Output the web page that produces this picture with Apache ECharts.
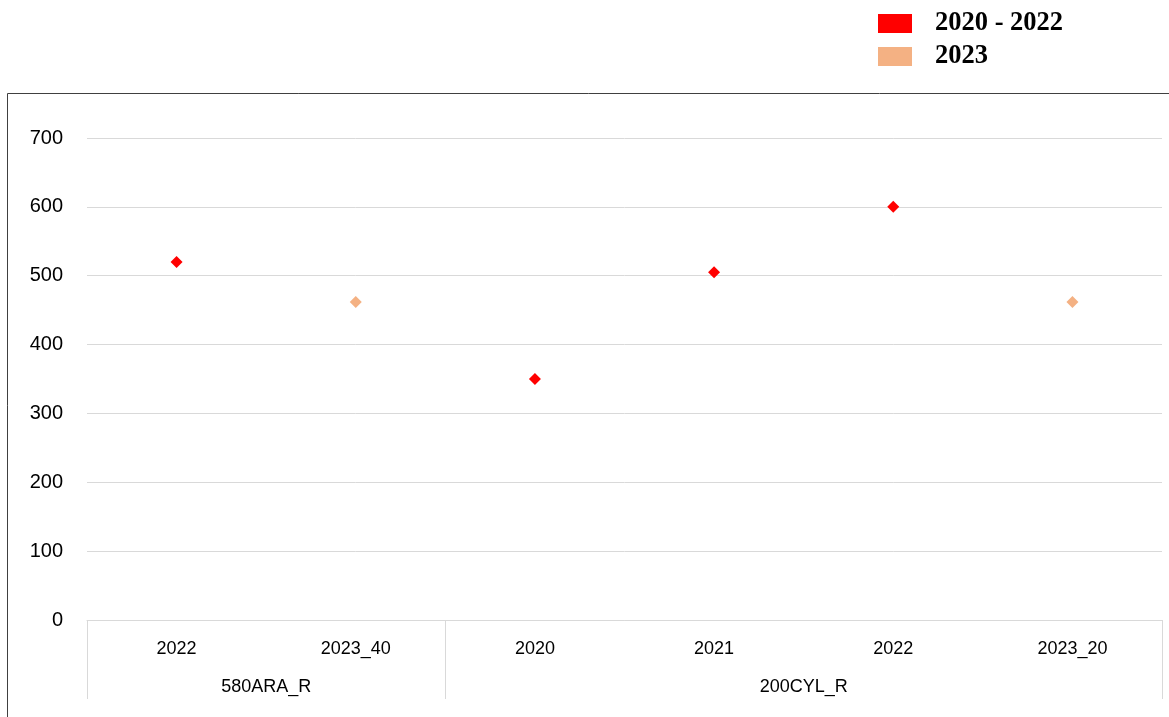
<!DOCTYPE html>
<html>
<head>
<meta charset="utf-8">
<script src="https://cdn.jsdelivr.net/npm/echarts@6/dist/echarts.min.js"></script>
<style>
html,body{margin:0;padding:0;background:#fff;}
#main{width:1169px;height:717px;}
</style>
</head>
<body>
<div id="main"></div>
<script>
// 数据
var categories = ['2022', '2023_40', '2020', '2021', '2022', '2023_20'];
var groupNames = ['580ARA_R', '200CYL_R'];
var groupCenters = [1, 4];     // 组标签位置 (以类目宽度计)
var groupBounds = [0, 2, 6];   // 组分隔线
var seriesOld = [520, null, 350, 505, 600, null];   // 2020 - 2022
var seriesNew = [null, 462, null, null, null, 462]; // 2023
var yTicks = [0, 100, 200, 300, 400, 500, 600, 700];

var myChart = echarts.init(document.getElementById('main'));

var option = {
    animation: false,
    legend: {
        orient: 'vertical',
        left: 873,
        top: 5,
        itemWidth: 34,
        itemHeight: 19,
        itemGap: 6,
        icon: 'rect',
        selectedMode: false,
        textStyle: {
            fontFamily: 'Liberation Serif',
            fontWeight: 'bold',
            fontSize: 26.5,
            lineHeight: 19,
            color: '#000',
            padding: [0, 0, 0, 18]
        },
        data: ['2020 - 2022', '2023']
    },
    grid: {
        left: 87,
        right: 7,
        top: 138,
        bottom: 97
    },
    graphic: [{
        type: 'rect',
        shape: {x: 7.5, y: 93.5, width: 1200, height: 700},
        style: {fill: 'none', stroke: '#404040', lineWidth: 1},
        silent: true
    }],
    xAxis: [{
        type: 'category',
        data: categories,
        boundaryGap: true,
        axisLine: {lineStyle: {color: '#d9d9d9'}},
        axisTick: {show: false},
        axisLabel: {
            margin: 20,
            fontFamily: 'Liberation Sans',
            fontSize: 18,
            color: '#000'
        }
    }, {
        type: 'value',
        min: 0,
        max: 6,
        position: 'bottom',
        axisLine: {show: false},
        splitLine: {show: false},
        axisTick: {
            show: true,
            length: 79,
            customValues: groupBounds,
            lineStyle: {color: '#d9d9d9'}
        },
        axisLabel: {
            margin: 58,
            customValues: groupCenters,
            fontFamily: 'Liberation Sans',
            fontSize: 18,
            color: '#000',
            formatter: function (v) {
                return groupNames[groupCenters.indexOf(v)];
            }
        }
    }],
    yAxis: {
        type: 'value',
        min: yTicks[0],
        max: yTicks[yTicks.length - 1],
        interval: 100,
        axisLine: {show: false},
        axisTick: {show: false},
        splitLine: {lineStyle: {color: '#d9d9d9'}},
        axisLabel: {
            margin: 24,
            fontFamily: 'Liberation Sans',
            fontSize: 20,
            color: '#000'
        }
    },
    series: [{
        name: '2020 - 2022',
        type: 'scatter',
        symbol: 'diamond',
        symbolSize: 12,
        itemStyle: {color: '#ff0000', opacity: 1},
        data: seriesOld
    }, {
        name: '2023',
        type: 'scatter',
        symbol: 'diamond',
        symbolSize: 12,
        itemStyle: {color: '#f4b183', opacity: 1},
        data: seriesNew
    }]
};
myChart.setOption(option);
</script>
</body>
</html>
